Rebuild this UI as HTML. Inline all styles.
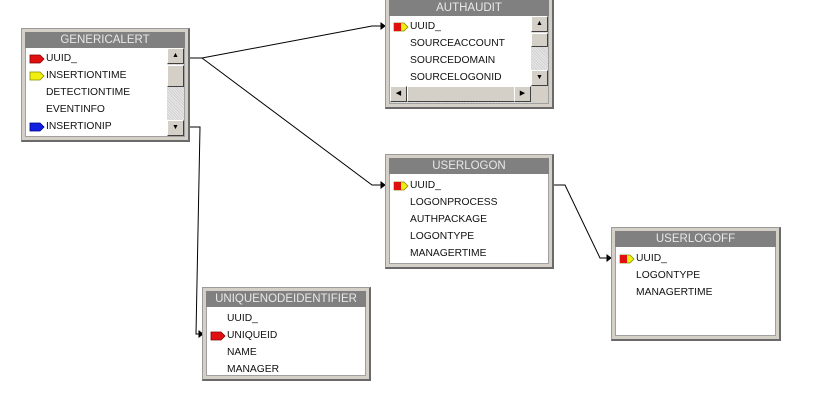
<!DOCTYPE html>
<html><head><meta charset="utf-8"><style>
body{margin:0;width:818px;height:415px;background:#fff;position:relative;overflow:hidden;font-family:"Liberation Sans",Arial,sans-serif;}
.b{position:absolute;background:#d4d0c8;border:1px solid #9a9a9a;border-right:2px solid #6a6a6a;border-bottom:2px solid #6a6a6a;box-sizing:border-box;padding:3px 3px 3px 3px;}
.t{height:16px;background:#808080;color:#e8e8e8;font-size:11.5px;text-align:center;line-height:16px;}
.c{position:absolute;left:3px;top:19px;right:3px;bottom:3px;background:#fff;border:1px solid #a0a0a0;border-top:none;}
.r{position:absolute;left:20px;font-size:10.3px;color:#111;line-height:12px;}
.k{position:absolute;left:3px;width:16px;height:10px;}
.sb{position:absolute;top:0;right:0;width:17px;bottom:0;background:repeating-linear-gradient(45deg,#e8e8e8 0 1px,#d0d0d0 1px 2px);}
.btn{position:absolute;left:0;width:17px;height:16px;background:#d4d0c8;border:1px solid;border-color:#fff #404040 #404040 #fff;box-sizing:border-box;font-size:7px;text-align:center;line-height:14px;color:#000;}
</style></head><body>
<svg width="818" height="415" style="position:absolute;left:0;top:0" fill="none" stroke="#000" stroke-width="1">
<polyline points="189,58 202,58 372,26 385,26"/>
<polyline points="202,58 372,185 385,185"/>
<polyline points="189,127 200,127 196,334 203,334"/>
<polyline points="553,185 565,185 600,258 611,258"/>
<path d="M381,23 L385,26 L381,29Z M381,182 L385,185 L381,188Z M199,331 L203,334 L199,337Z M607,255 L611,258 L607,261Z" fill="#000"/>
</svg>

<div class="b" style="left:21px;top:28px;width:169px;height:114px">
<div class="t">GENERICALERT</div>
<div class="c">
<svg class="k" style="top:6px" viewBox="0 0 16 10"><path d="M1,1H11L15,5L11,9H1Z" fill="#e01010" stroke="#800" stroke-width=".8"/></svg><div class="r" style="top:5px">UUID_</div>
<svg class="k" style="top:23px" viewBox="0 0 16 10"><path d="M1,1H11L15,5L11,9H1Z" fill="#f0f010" stroke="#880" stroke-width=".8"/></svg><div class="r" style="top:22px">INSERTIONTIME</div>
<div class="r" style="top:39px">DETECTIONTIME</div>
<div class="r" style="top:56px">EVENTINFO</div>
<svg class="k" style="top:74px" viewBox="0 0 16 10"><path d="M1,1H11L15,5L11,9H1Z" fill="#1020e0" stroke="#008" stroke-width=".8"/></svg><div class="r" style="top:73px">INSERTIONIP</div>
<div class="sb"><div class="btn" style="top:0">▲</div><div class="btn" style="top:17px;height:22px"></div><div class="btn" style="bottom:0">▼</div></div>
</div></div>

<div class="b" style="left:385px;top:-4px;width:169px;height:113px">
<div class="t">AUTHAUDIT</div>
<div class="c">
<svg class="k" style="top:6px" viewBox="0 0 16 10"><path d="M1,1H11L15,5L11,9H1Z" fill="#f0f010" stroke="#880" stroke-width=".8"/><rect x="1" y="1" width="7" height="8" fill="#e01010"/></svg><div class="r" style="top:5px">UUID_</div>
<div class="r" style="top:22px">SOURCEACCOUNT</div>
<div class="r" style="top:39px">SOURCEDOMAIN</div>
<div class="r" style="top:56px">SOURCELOGONID</div>
<div class="sb" style="bottom:17px"><div class="btn" style="top:0">▲</div><div class="btn" style="top:17px;height:14px"></div><div class="btn" style="bottom:0">▼</div></div>
<div style="position:absolute;left:0;right:17px;bottom:0;height:17px;background:repeating-linear-gradient(45deg,#e8e8e8 0 1px,#d0d0d0 1px 2px)"><div class="btn" style="top:0;left:0">◀</div><div class="btn" style="top:0;left:17px;width:108px"></div><div class="btn" style="top:0;left:auto;right:0">▶</div></div>
<div style="position:absolute;right:0;bottom:0;width:17px;height:17px;background:#d4d0c8"></div>
</div></div>

<div class="b" style="left:385px;top:154px;width:169px;height:115px">
<div class="t">USERLOGON</div>
<div class="c">
<svg class="k" style="top:7px" viewBox="0 0 16 10"><path d="M1,1H11L15,5L11,9H1Z" fill="#f0f010" stroke="#880" stroke-width=".8"/><rect x="1" y="1" width="7" height="8" fill="#e01010"/></svg><div class="r" style="top:6px">UUID_</div>
<div class="r" style="top:23px">LOGONPROCESS</div>
<div class="r" style="top:40px">AUTHPACKAGE</div>
<div class="r" style="top:57px">LOGONTYPE</div>
<div class="r" style="top:74px">MANAGERTIME</div>
</div></div>

<div class="b" style="left:611px;top:227px;width:170px;height:114px">
<div class="t">USERLOGOFF</div>
<div class="c">
<svg class="k" style="top:7px" viewBox="0 0 16 10"><path d="M1,1H11L15,5L11,9H1Z" fill="#f0f010" stroke="#880" stroke-width=".8"/><rect x="1" y="1" width="7" height="8" fill="#e01010"/></svg><div class="r" style="top:6px">UUID_</div>
<div class="r" style="top:23px">LOGONTYPE</div>
<div class="r" style="top:40px">MANAGERTIME</div>
</div></div>

<div class="b" style="left:202px;top:287px;width:169px;height:94px">
<div class="t">UNIQUENODEIDENTIFIER</div>
<div class="c">
<div class="r" style="top:6px">UUID_</div>
<svg class="k" style="top:24px" viewBox="0 0 16 10"><path d="M1,1H11L15,5L11,9H1Z" fill="#e01010" stroke="#800" stroke-width=".8"/></svg><div class="r" style="top:23px">UNIQUEID</div>
<div class="r" style="top:40px">NAME</div>
<div class="r" style="top:57px">MANAGER</div>
</div></div>
</body></html>
